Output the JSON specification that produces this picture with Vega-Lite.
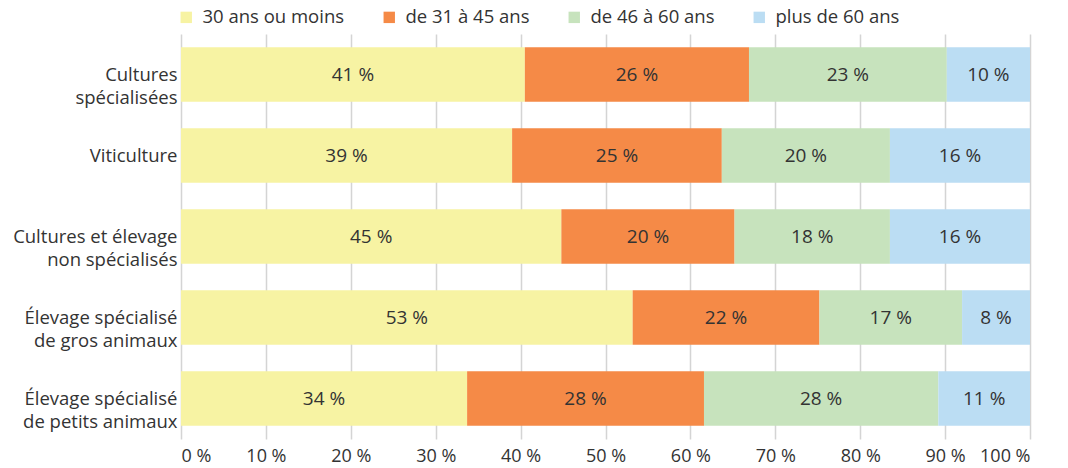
{
  "$schema": "https://vega.github.io/schema/vega-lite/v6.json",
  "width": 849,
  "height": 405,
  "autosize": {"type": "none"},
  "padding": {"left": 181, "top": 34, "right": 38, "bottom": 29},
  "config": {
    "font": "Open Sans",
    "view": {"stroke": null},
    "text": {"font": "Open Sans"}
  },
  "data": {
    "values": [
      {"cat": "Cultures|spécialisées", "grp": "30 ans ou moins", "ord": 1, "v": 40.5, "lab": "41 %"},
      {"cat": "Cultures|spécialisées", "grp": "de 31 à 45 ans", "ord": 2, "v": 26.4, "lab": "26 %"},
      {"cat": "Cultures|spécialisées", "grp": "de 46 à 60 ans", "ord": 3, "v": 23.3, "lab": "23 %"},
      {"cat": "Cultures|spécialisées", "grp": "plus de 60 ans", "ord": 4, "v": 9.8, "lab": "10 %"},
      {"cat": "Viticulture", "grp": "30 ans ou moins", "ord": 1, "v": 39.0, "lab": "39 %"},
      {"cat": "Viticulture", "grp": "de 31 à 45 ans", "ord": 2, "v": 24.7, "lab": "25 %"},
      {"cat": "Viticulture", "grp": "de 46 à 60 ans", "ord": 3, "v": 19.8, "lab": "20 %"},
      {"cat": "Viticulture", "grp": "plus de 60 ans", "ord": 4, "v": 16.5, "lab": "16 %"},
      {"cat": "Cultures et élevage|non spécialisés", "grp": "30 ans ou moins", "ord": 1, "v": 44.8, "lab": "45 %"},
      {"cat": "Cultures et élevage|non spécialisés", "grp": "de 31 à 45 ans", "ord": 2, "v": 20.4, "lab": "20 %"},
      {"cat": "Cultures et élevage|non spécialisés", "grp": "de 46 à 60 ans", "ord": 3, "v": 18.3, "lab": "18 %"},
      {"cat": "Cultures et élevage|non spécialisés", "grp": "plus de 60 ans", "ord": 4, "v": 16.5, "lab": "16 %"},
      {"cat": "Élevage spécialisé|de gros animaux", "grp": "30 ans ou moins", "ord": 1, "v": 53.2, "lab": "53 %"},
      {"cat": "Élevage spécialisé|de gros animaux", "grp": "de 31 à 45 ans", "ord": 2, "v": 22.0, "lab": "22 %"},
      {"cat": "Élevage spécialisé|de gros animaux", "grp": "de 46 à 60 ans", "ord": 3, "v": 16.8, "lab": "17 %"},
      {"cat": "Élevage spécialisé|de gros animaux", "grp": "plus de 60 ans", "ord": 4, "v": 8.0, "lab": "8 %"},
      {"cat": "Élevage spécialisé|de petits animaux", "grp": "30 ans ou moins", "ord": 1, "v": 33.7, "lab": "34 %"},
      {"cat": "Élevage spécialisé|de petits animaux", "grp": "de 31 à 45 ans", "ord": 2, "v": 27.9, "lab": "28 %"},
      {"cat": "Élevage spécialisé|de petits animaux", "grp": "de 46 à 60 ans", "ord": 3, "v": 27.6, "lab": "28 %"},
      {"cat": "Élevage spécialisé|de petits animaux", "grp": "plus de 60 ans", "ord": 4, "v": 10.8, "lab": "11 %"}
    ]
  },
  "transform": [
    {"stack": "v", "groupby": ["cat"], "sort": [{"field": "ord", "order": "ascending"}], "as": ["v0", "v1"]},
    {"calculate": "(datum.v0 + datum.v1) / 2", "as": "mid"}
  ],
  "encoding": {
    "y": {
      "field": "cat", "type": "nominal", "sort": null, "title": null,
      "scale": {"paddingInner": 0.33, "paddingOuter": 0.165},
      "axis": {
        "domain": false, "ticks": false, "labelPadding": 4,
        "labelExpr": "split(datum.value, '|')",
        "labelFontSize": 18.5, "labelColor": "#333333", "labelLineHeight": 23,
        "labelFont": "Open Sans", "labelLimit": 300
      }
    }
  },
  "layer": [
    {
      "mark": {"type": "bar"},
      "encoding": {
        "x": {
          "field": "v0", "type": "quantitative", "title": null,
          "scale": {"domain": [0, 100], "nice": false},
          "axis": {
            "values": [0, 10, 20, 30, 40, 50, 60, 70, 80, 90, 100],
            "labelExpr": "datum.value + ' %'",
            "domain": false, "ticks": false, "grid": true,
            "gridColor": "#d4d4d4", "gridWidth": 1.5,
            "labelFontSize": 18, "labelColor": "#333333", "labelPadding": 8,
            "labelFont": "Open Sans"
          }
        },
        "x2": {"field": "v1"},
        "color": {
          "field": "grp", "type": "nominal", "title": null,
          "scale": {
            "domain": ["30 ans ou moins", "de 31 à 45 ans", "de 46 à 60 ans", "plus de 60 ans"],
            "range": ["#F7F3A3", "#F58A47", "#C7E3BD", "#BBDDF3"]
          },
          "legend": {
            "orient": "none", "legendX": -4, "legendY": -26, "direction": "horizontal",
            "symbolType": "square", "symbolSize": 130, "symbolStrokeWidth": 0,
            "labelFontSize": 18.5, "labelColor": "#333333", "labelFont": "Open Sans",
            "columnPadding": 35, "labelOffset": 7
          }
        }
      }
    },
    {
      "mark": {"type": "text", "fontSize": 19, "color": "#333333", "baseline": "middle"},
      "encoding": {
        "x": {"field": "mid", "type": "quantitative"},
        "text": {"field": "lab"}
      }
    }
  ]
}
